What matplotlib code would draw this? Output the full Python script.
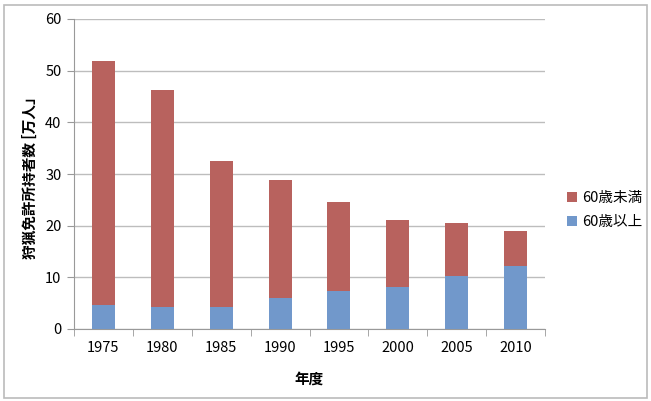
import matplotlib
matplotlib.use('Agg')
import matplotlib.pyplot as plt
import numpy as np

plt.rcParams['font.family'] = ['Noto Sans CJK JP', 'DejaVu Sans']

years = ['1975', '1980', '1985', '1990', '1995', '2000', '2005', '2010']
over60 = [4.6, 4.2, 4.2, 6.0, 7.35, 8.1, 10.25, 12.2]
total = [51.8, 46.2, 32.6, 28.8, 24.6, 21.0, 20.45, 18.9]
under60 = [t - o for t, o in zip(total, over60)]

red = '#B8625E'
blue = '#7198CB'
fs = 10.5

fig = plt.figure(figsize=(6.51, 4.01), dpi=100)
# light frame around the whole chart
fig.patches.append(plt.Rectangle((0.006, 0.008), 0.988, 0.98, transform=fig.transFigure,
                                 fill=False, edgecolor='#bbbbbb', linewidth=1.2))
ax = fig.add_axes([74 / 651, 1 - 329 / 401, (545 - 74) / 651, (329 - 19) / 401])

x = np.arange(len(years))
ax.bar(x, over60, width=0.39, color=blue, label='60歳以上', zorder=3)
ax.bar(x, under60, width=0.39, bottom=over60, color=red, label='60歳未満', zorder=3)

ax.set_xlim(-0.5, len(years) - 0.5)
ax.set_ylim(0, 60)
ax.set_yticks(range(0, 61, 10))
ax.yaxis.grid(True, color='#bdbdbd', linewidth=1.0, zorder=0)
ax.set_xticks(x)
ax.set_xticklabels(years)
ax.set_xticks(np.arange(-0.5, len(years)), minor=True)
ax.tick_params(axis='x', which='major', length=0, pad=9, labelsize=fs)
ax.tick_params(axis='x', which='minor', length=5, color='#999999', direction='out')
ax.tick_params(axis='y', length=5, color='#999999', labelsize=fs, pad=4)
for s in ['top', 'right']:
    ax.spines[s].set_visible(False)
ax.spines['left'].set_color('#999999')
ax.spines['bottom'].set_color('#999999')

ax.set_xlabel('年度', fontsize=fs, fontweight='bold', labelpad=11)
ax.set_ylabel('狩猟免許所持者数 [万人」', fontsize=fs, fontweight='bold', labelpad=5)

h, l = ax.get_legend_handles_labels()
fig.legend(h[::-1], l[::-1], loc='upper left', bbox_to_anchor=(554 / 651, 1 - 178 / 401),
           frameon=False, fontsize=fs, handlelength=0.7, handleheight=0.7,
           handletextpad=0.3, labelspacing=0.7)

fig.savefig('out.png', dpi=100)
